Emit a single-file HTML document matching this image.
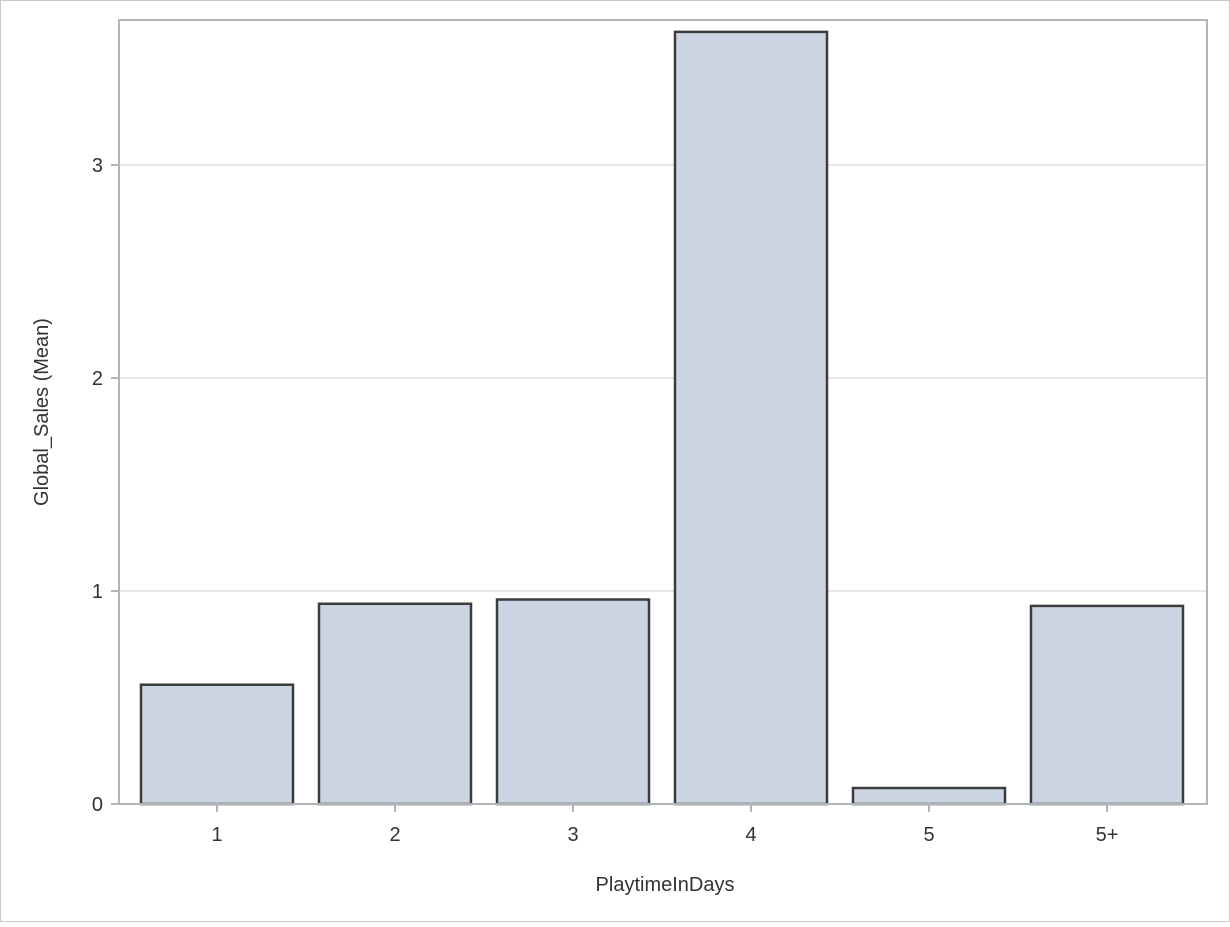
<!DOCTYPE html>
<html><head><meta charset="utf-8"><style>
body{margin:0;background:#fff;}
svg text{font-family:"Liberation Sans",sans-serif;fill:#333;}
</style></head><body>
<svg width="1230" height="922">
<rect x="0.5" y="0.5" width="1229" height="921" fill="#fff" stroke="#c8c8c8"/>
<g id="grid"></g><g id="bars"></g><g id="axes"></g>
<text x="665" y="891" font-size="20" text-anchor="middle">PlaytimeInDays</text>
<text transform="translate(48,412) rotate(-90)" font-size="20" text-anchor="middle">Global_Sales (Mean)</text>
</svg>
<script>
const categories=["1","2","3","4","5","5+"];
const values=[0.56,0.94,0.96,3.625,0.075,0.93];
const yTicks=[0,1,2,3];
const NS="http://www.w3.org/2000/svg";
const L=119,R=1207,T=20,B=804,unit=213;
const y=v=>B-v*unit;
const step=178,x0=217,bw=152;
const x=i=>x0+step*i;
function mk(tag,attrs,parent){const e=document.createElementNS(NS,tag);for(const k in attrs)e.setAttribute(k,attrs[k]);parent.appendChild(e);return e;}
const grid=document.getElementById('grid'),bars=document.getElementById('bars'),axes=document.getElementById('axes');
yTicks.forEach(t=>{
 if(t>0){const g=mk('line',{x1:L,x2:R,y1:y(t),y2:y(t),stroke:'#e6e6e6','stroke-width':2},grid);
 
 }
 const tk=mk('line',{x1:L-8,x2:L,y1:y(t),y2:y(t),stroke:'#b0b4b8','stroke-width':2},axes);
 
 
 const lb=mk('text',{x:L-16,y:y(t)+7,'font-size':20,'text-anchor':'end'},axes);
 lb.textContent=t;
 
 
});
categories.forEach((c,i)=>{
 const r=mk('rect',{x:x(i)-bw/2,y:y(values[i]),width:bw,height:B-y(values[i]),fill:'#cbd5e4',stroke:'#3c3c3c','stroke-width':2.5},bars);
 
 
 const tk=mk('line',{x1:x(i),x2:x(i),y1:B,y2:B+8,stroke:'#b0b4b8','stroke-width':2},axes);
 
 
 const lb=mk('text',{x:x(i),y:B+37,'font-size':20,'text-anchor':'middle'},axes);
 lb.textContent=c;
 
 
});
const fr=mk('rect',{x:L,y:T,width:R-L,height:B-T,fill:'none',stroke:'#b0b4b8','stroke-width':2},axes);


</script>
</body></html>
